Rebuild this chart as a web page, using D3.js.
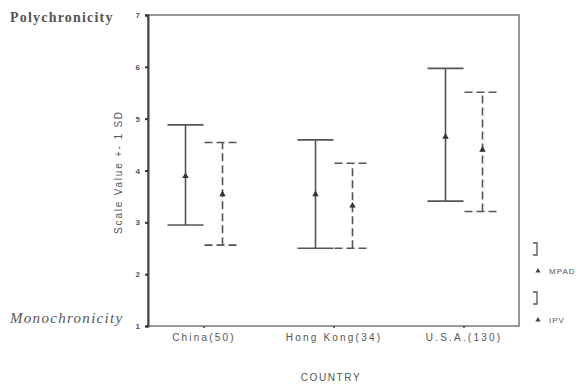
<!DOCTYPE html>
<html><head><meta charset="utf-8">
<script src="https://cdn.jsdelivr.net/npm/d3@7"></script>
<style>body{margin:0;background:#fff}svg{display:block}</style>
</head><body>
<svg id="c" width="584" height="387"></svg>
<script>
const categories = ["China(50)", "Hong Kong(34)", "U.S.A.(130)"];
const seriesNames = ["MPAD", "IPV"];
const mpadMean = [3.89, 3.54, 4.65];
const mpadLow  = [2.95, 2.50, 3.41];
const mpadHigh = [4.88, 4.59, 5.97];
const ipvMean  = [3.54, 3.32, 4.40];
const ipvLow   = [2.56, 2.50, 3.21];
const ipvHigh  = [4.54, 4.14, 5.51];
const yTicks = [1, 2, 3, 4, 5, 6, 7];

const svg = d3.select("#c");
const L = 148, R = 519, T = 15, B = 326;
const x = d3.scalePoint().domain(categories).range([L, R]).padding(0.427);
const y = d3.scaleLinear().domain([1, 7]).range([B, T]);
const col = "#555";
const sans = "Liberation Sans, Arial, sans-serif";

// frame
svg.append("rect").attr("x", L).attr("y", T).attr("width", R - L).attr("height", B - T)
  .attr("fill", "none").attr("stroke", "#777").attr("stroke-width", 1.5);

// y axis
const ya = svg.append("g").attr("transform", `translate(${L},0)`)
  .call(d3.axisLeft(y).tickValues(yTicks).tickSize(3).tickPadding(5).tickFormat(d3.format("d")));
ya.select(".domain").attr("stroke", "#444").attr("stroke-width", 2);
ya.selectAll(".tick line").attr("stroke", "#333").attr("stroke-width", 2);
ya.selectAll(".tick text").attr("font-family", sans).attr("font-size", 8).attr("font-weight", "bold").attr("fill", "#555");

// x axis
const xa = svg.append("g").attr("transform", `translate(0,${B})`)
  .call(d3.axisBottom(x).tickSize(2).tickPadding(6));
xa.select(".domain").remove();
xa.selectAll(".tick line").attr("stroke", "#444").attr("stroke-width", 1.5);
xa.selectAll(".tick text").attr("font-family", sans).attr("font-size", 10).attr("letter-spacing", 2.2).attr("fill", "#555");

const series = [
  {name: seriesNames[0], mean: mpadMean, low: mpadLow, high: mpadHigh, off: -18, dash: null, sym: d3.symbolTriangle},
  {name: seriesNames[1], mean: ipvMean, low: ipvLow, high: ipvHigh, off: 19, dash: "8,4", sym: d3.symbolTriangle}
];
const capW = 18;
series.forEach(s => {
  const g = svg.append("g").attr("stroke", col).attr("stroke-width", 1.6).attr("fill", "none");
  categories.forEach((c, i) => {
    const cx = x(c) + s.off;
    g.append("line").attr("x1", cx).attr("x2", cx).attr("y1", y(s.low[i])).attr("y2", y(s.high[i])).attr("stroke-dasharray", s.dash);
    [s.low[i], s.high[i]].forEach(v => {
      g.append("line").attr("x1", cx - capW).attr("x2", cx + capW).attr("y1", y(v)).attr("y2", y(v)).attr("stroke-dasharray", s.dash);
    });
    svg.append("path").attr("d", d3.symbol().type(s.sym).size(18)())
      .attr("transform", `translate(${cx},${y(s.mean[i])})`).attr("fill", "#333");
  });
});

// y-axis title
svg.append("text").attr("transform", `translate(122,172) rotate(-90)`)
  .attr("text-anchor", "middle").attr("font-family", sans)
  .attr("font-size", 10).attr("letter-spacing", 1.8).attr("fill", "#555").text("Scale Value +- 1 SD");

// x-axis title
svg.append("text").attr("x", 331).attr("y", 381).attr("text-anchor", "middle")
  .attr("font-family", sans).attr("font-size", 10).attr("letter-spacing", 1.6).attr("fill", "#555").text("COUNTRY");

// side labels
svg.append("text").attr("x", 10).attr("y", 22).attr("font-family", "Liberation Serif, DejaVu Serif, serif")
  .attr("font-size", 14).attr("font-weight", "bold").attr("letter-spacing", 1.2).attr("fill", "#555").text("Polychronicity");
svg.append("text").attr("x", 10).attr("y", 323).attr("font-family", "Liberation Serif, DejaVu Serif, serif")
  .attr("font-size", 15).attr("font-style", "italic").attr("letter-spacing", 1.3).attr("fill", "#555").text("Monochronicity");

// legend
const lg = svg.append("g");
const legY = [271, 320];
series.forEach((s, i) => {
  const yy = legY[i];
  lg.append("path").attr("d", `M533,${yy - 28}H537V${yy - 16}H533`).attr("fill", "none")
    .attr("stroke", col).attr("stroke-width", 1.3);
  lg.append("path").attr("d", d3.symbol().type(s.sym).size(12)()).attr("transform", `translate(538,${yy})`).attr("fill", "#444");
  lg.append("text").attr("x", 549).attr("y", yy + 3).attr("font-family", sans)
    .attr("font-size", 8).attr("letter-spacing", 1).attr("fill", "#555").text(s.name);
});
</script>
</body></html>
